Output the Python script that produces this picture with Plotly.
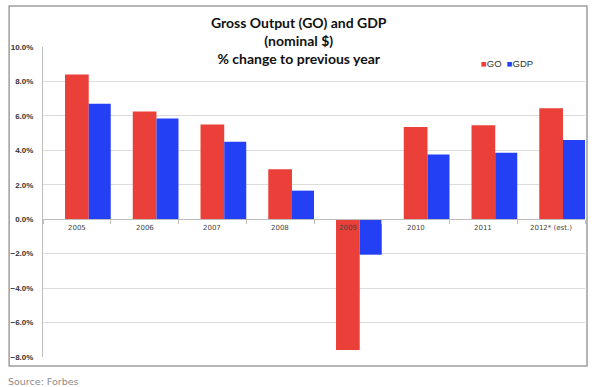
import plotly.graph_objects as go

categories = ["2005", "2006", "2007", "2008", "2009", "2010", "2011", "2012* (est.)"]
go_values = [0.084, 0.0625, 0.055, 0.029, -0.076, 0.0535, 0.0545, 0.0645]
gdp_values = [0.067, 0.0585, 0.045, 0.0166, -0.0206, 0.0376, 0.0386, 0.046]
y_ticks = [-0.08, -0.06, -0.04, -0.02, 0.0, 0.02, 0.04, 0.06, 0.08, 0.10]
series_names = ["GO", "GDP"]
title_lines = ["Gross Output (GO) and GDP", "(nominal $)", "% change to previous year"]

RED = "#EA4039"
BLUE = "#2440F5"
colors = [RED, BLUE]

fig = go.Figure()
fig.add_trace(go.Bar(name=series_names[0], x=categories, y=go_values,
                     offset=-0.175, width=0.35,
                     marker=dict(color=RED, line=dict(width=0))))
fig.add_trace(go.Bar(name=series_names[1], x=categories, y=gdp_values,
                     offset=0.175, width=0.325,
                     marker=dict(color=BLUE, line=dict(width=0))))

ymin, ymax = -0.08, 0.10
zero_pos = (0 - ymin) / (ymax - ymin)

L, R, T, B = 41, 10, 47, 30
W, H = 595, 387
pw, ph = W - L - R, H - T - B


def px_x(x):
    return (x - L) / pw


def px_y(y):
    return (H - B - y) / ph


legend_text = "&nbsp;&nbsp;".join(
    f"<span style='color:{c}'>■</span>{n}" for n, c in zip(series_names, colors)
)

annotations = [
    dict(text="<b>" + "<br>".join(title_lines) + "</b>", xref="paper", yref="paper",
         x=px_x(298), y=px_y(40), xanchor="center", yanchor="middle",
         showarrow=False, align="center",
         font=dict(family="Lato, Open Sans, sans-serif", size=14, color="#111111")),
    dict(text="Source: Forbes", xref="paper", yref="paper",
         x=px_x(4), y=px_y(381), xanchor="left", yanchor="middle",
         showarrow=False,
         font=dict(family="DejaVu Sans, sans-serif", size=9.5, color="#8A8A8A")),
    dict(text=legend_text, xref="paper", yref="paper",
         x=px_x(479), y=px_y(64), xanchor="left", yanchor="middle",
         showarrow=False,
         font=dict(family="Liberation Sans, Arial, sans-serif", size=9.5, color="#333333")),
]
# category labels sit just under the zero line, drawn above the bars
for i, c in enumerate(categories):
    annotations.append(dict(text=c, x=i, y=0, xref="x", yref="y",
                            yanchor="middle", yshift=-9, showarrow=False,
                            font=dict(family="DejaVu Sans, sans-serif", size=7, color="#444444")))

fig.update_layout(
    width=W, height=H,
    margin=dict(l=L, r=R, t=T, b=B),
    paper_bgcolor="white", plot_bgcolor="white",
    barmode="overlay",
    showlegend=False,
    xaxis=dict(
        anchor="free", position=zero_pos, layer="above traces",
        showline=True, linecolor="#BDBDBD", linewidth=1,
        ticks="outside", tickson="boundaries", ticklen=4, tickcolor="#BDBDBD",
        showticklabels=False,
        showgrid=False, zeroline=False, range=[-0.5, len(categories) - 0.5],
    ),
    yaxis=dict(
        range=[ymin, ymax], tickvals=y_ticks, tickformat=".1%",
        showgrid=True, gridcolor="#DCDCDC", gridwidth=1.2,
        zeroline=False, showline=True, linecolor="#BDBDBD", linewidth=1,
        ticks="", ticklabelstandoff=7,
        tickfont=dict(family="Liberation Sans, Arial, sans-serif", size=8, color="#333333", weight="bold"),
    ),
    shapes=[
        dict(type="rect", xref="paper", yref="paper",
             x0=px_x(7), x1=px_x(587), y0=px_y(366), y1=px_y(6),
             line=dict(color="#9E9E9E", width=1.5), fillcolor="rgba(0,0,0,0)", layer="below"),
    ],
    annotations=annotations,
)

fig.write_html("out.html", config={"displayModeBar": False},
               post_script="document.body.style.margin='0';")
